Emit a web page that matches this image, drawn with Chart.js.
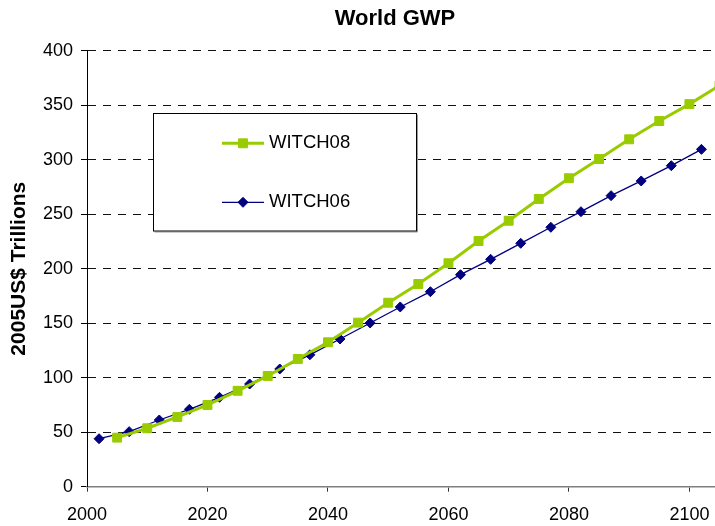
<!DOCTYPE html>
<html>
<head>
<meta charset="utf-8">
<script src="https://cdn.jsdelivr.net/npm/chart.js@4/dist/chart.umd.min.js"></script>
<style>
  html, body { margin: 0; padding: 0; background: #fff; overflow: hidden; width: 715px; height: 526px; }
  #wrap { position: absolute; left: 0; top: 0; width: 790px; height: 526px; }
</style>
</head>
<body>
<div id="wrap"><canvas id="c" width="790" height="526"></canvas></div>
<script>
// ---- data ----
const chartTitle = 'World GWP';
const yAxisTitle = '2005US$ Trillions';
const seriesNames = ['WITCH08', 'WITCH06'];

const years08 = [2005, 2010, 2015, 2020, 2025, 2030, 2035, 2040, 2045, 2050, 2055,
                 2060, 2065, 2070, 2075, 2080, 2085, 2090, 2095, 2100, 2105];
const witch08 = [45, 53.6, 64, 75, 88, 101.6, 117.2, 132.5, 150.5, 168.8, 186,
                 205, 225.4, 244, 264, 283, 300.6, 318.7, 335.5, 351, 368];

const years06 = [2002, 2007, 2012, 2017, 2022, 2027, 2032, 2037, 2042, 2047, 2052,
                 2057, 2062, 2067, 2072, 2077, 2082, 2087, 2092, 2097, 2102];
const witch06 = [44, 50.5, 61.2, 71, 82, 94.2, 108, 121, 135.5, 150.2, 164.9,
                 178.9, 194.5, 208.6, 223.3, 238, 252.3, 267, 280.5, 294.5, 309.5];

const xTickLabels = [2000, 2020, 2040, 2060, 2080, 2100];
const yTickLabels = [0, 50, 100, 150, 200, 250, 300, 350, 400];

// ---- build ----
const pts = (xs, ys) => xs.map((x, i) => ({x: x, y: ys[i]}));
const FONT = '"Liberation Sans", Arial, sans-serif';

const boxLegend = {
  id: 'boxLegend',
  afterDraw(chart) {
    const ctx = chart.ctx;
    const bx = 153.5, by = 113.5, bw = 263, bh = 117.5;
    ctx.save();
    ctx.strokeStyle = '#9a9a9a';
    ctx.lineWidth = 1;
    ctx.beginPath();
    ctx.moveTo(bx + 1, by + bh + 1); ctx.lineTo(bx + bw + 1, by + bh + 1); ctx.lineTo(bx + bw + 1, by + 1);
    ctx.stroke();
    ctx.fillStyle = '#fff';
    ctx.fillRect(bx, by, bw, bh);
    ctx.strokeStyle = '#000';
    ctx.strokeRect(bx, by, bw, bh);
    const rowsY = [143.3, 202.3];
    chart.data.datasets.forEach((ds, i) => {
      const y = rowsY[i];
      ctx.strokeStyle = ds.borderColor;
      ctx.lineWidth = ds.borderWidth;
      ctx.beginPath(); ctx.moveTo(222, y); ctx.lineTo(264, y); ctx.stroke();
      const mx = 243;
      ctx.fillStyle = ds.pointBackgroundColor;
      ctx.strokeStyle = ds.pointBorderColor;
      ctx.lineWidth = 1;
      ctx.beginPath();
      if (ds.pointStyle === 'rect') {
        const s = ds.pointRadius * Math.SQRT1_2;
        ctx.rect(mx - s, y - s, 2 * s, 2 * s);
      } else {
        const r = ds.pointRadius;
        ctx.moveTo(mx, y - r); ctx.lineTo(mx + r, y); ctx.lineTo(mx, y + r); ctx.lineTo(mx - r, y); ctx.closePath();
      }
      ctx.fill(); ctx.stroke();
      ctx.fillStyle = '#000';
      ctx.font = '18.5px ' + FONT;
      ctx.textBaseline = 'middle';
      ctx.textAlign = 'left';
      ctx.fillText(ds.label, 269, y);
    });
    ctx.restore();
  }
};

new Chart(document.getElementById('c'), {
  type: 'line',
  data: {
    datasets: [
      {
        label: seriesNames[0],
        data: pts(years08, witch08),
        borderColor: '#99CC00',
        backgroundColor: '#99CC00',
        borderWidth: 3,
        pointStyle: 'rect',
        pointRadius: 6.3,
        pointBackgroundColor: '#99CC00',
        pointBorderColor: '#99CC00',
        pointBorderWidth: 1,
        tension: 0
      },
      {
        label: seriesNames[1],
        data: pts(years06, witch06),
        borderColor: '#000080',
        backgroundColor: '#000080',
        borderWidth: 1.3,
        pointStyle: 'rectRot',
        pointRadius: 5,
        pointBackgroundColor: '#000080',
        pointBorderColor: '#000080',
        pointBorderWidth: 1,
        tension: 0
      }
    ]
  },
  options: {
    responsive: false,
    animation: false,
    events: [],
    layout: { autoPadding: false, padding: { left: 0, right: 0, top: 6, bottom: 0 } },
    plugins: {
      legend: { display: false },
      tooltip: { enabled: false },
      title: {
        display: true,
        text: chartTitle,
        color: '#000',
        font: { family: FONT, size: 22, weight: 'bold' },
        padding: { top: 0, bottom: 18.3 }
      }
    },
    scales: {
      x: {
        type: 'linear',
        min: xTickLabels[0],
        max: 2116.7,
        afterFit(scale) { scale.height = 39.3; },
        afterBuildTicks(scale) { scale.ticks = xTickLabels.map(v => ({value: v})); },
        ticks: {
          includeBounds: false,
          color: '#000',
          padding: 13,
          maxRotation: 0,
          font: { family: FONT, size: 18 },
          callback: v => String(v)
        },
        grid: { drawOnChartArea: false, drawTicks: true, tickLength: 5, tickColor: '#333', tickWidth: 1 },
        border: { display: true, color: '#7f7f7f', width: 1.5 }
      },
      y: {
        type: 'linear',
        min: yTickLabels[0],
        max: yTickLabels[yTickLabels.length - 1],
        afterFit(scale) { scale.width = 87; },
        afterBuildTicks(scale) { scale.ticks = yTickLabels.map(v => ({value: v})); },
        ticks: {
          color: '#000',
          padding: 8,
          font: { family: FONT, size: 18 },
          callback: v => String(v)
        },
        grid: {
          color: c => (c.tick && c.tick.value === 0) ? 'rgba(0,0,0,0)' : '#111',
          lineWidth: 1,
          drawTicks: true,
          tickLength: 6,
          tickColor: '#000',
          tickWidth: 1
        },
        border: { display: true, color: '#000', width: 1, dash: [8, 7] },
        title: {
          display: true,
          text: yAxisTitle,
          color: '#000',
          font: { family: FONT, size: 21, weight: 'bold' },
          padding: { top: 6.5, bottom: 0 }
        }
      }
    }
  },
  plugins: [boxLegend]
});
</script>
</body>
</html>
